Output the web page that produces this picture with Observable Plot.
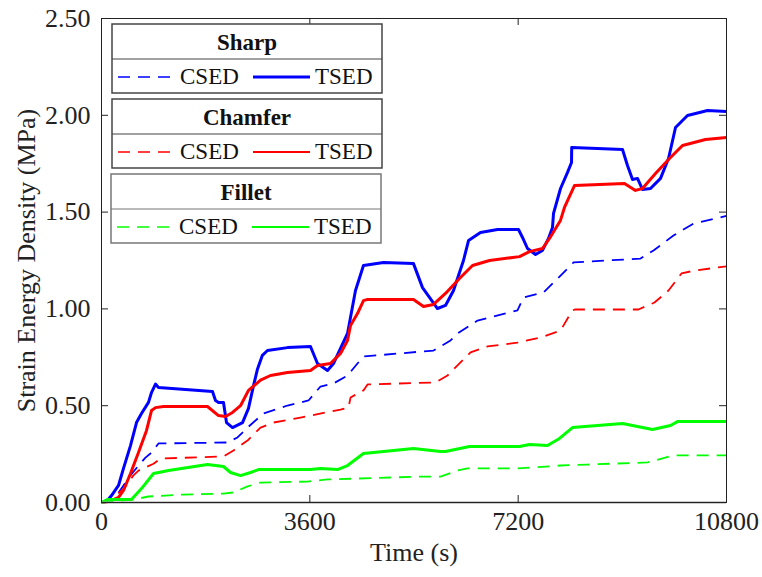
<!DOCTYPE html>
<html><head><meta charset="utf-8">
<script src="https://cdn.jsdelivr.net/npm/d3@7"></script>
<script src="https://cdn.jsdelivr.net/npm/@observablehq/plot@0.6"></script>
<style>
body{margin:0;background:#fff}
#chart{width:762px;height:577px}
</style>
</head><body><div id="chart"></div>
<script>
// ---- Data ----
const xTicks = [0, 3600, 7200, 10800];
const yTicks = [0, 0.5, 1.0, 1.5, 2.0, 2.5];
const geometries = ["Sharp", "Chamfer", "Fillet"];
const measures = ["CSED", "TSED"];
const colors = {Sharp: "#0000ff", Chamfer: "#ff0000", Fillet: "#00ff00"};

const sharpTSED_t = [0,86,173,294,380,501,605,691,812,864,933,985,1918,1970,2022,2108,2160,2264,2437,2540,2627,2696,2780,2868,3214,3611,3732,3905,4009,4251,4389,4527,4873,5391,5547,5806,5944,6083,6255,6342,6549,6843,7206,7275,7361,7500,7620,7724,7793,7811,7932,8053,8122,8125,8571,9003,9089,9176,9262,9348,9487,9660,9798,9919,10126,10472,10800];
const sharpTSED_v = [0,0.005,0.036,0.088,0.176,0.294,0.413,0.46,0.517,0.568,0.612,0.594,0.573,0.527,0.517,0.517,0.413,0.387,0.413,0.486,0.604,0.69,0.76,0.785,0.80,0.806,0.718,0.682,0.718,0.873,1.095,1.224,1.24,1.234,1.11,1.002,1.018,1.095,1.25,1.353,1.395,1.41,1.41,1.369,1.312,1.281,1.302,1.364,1.42,1.493,1.622,1.705,1.756,1.834,1.829,1.823,1.741,1.668,1.674,1.617,1.622,1.674,1.777,1.937,1.999,2.025,2.02];

const sharpCSED_t = [0,121,294,380,500,639,760,864,985,2176,2350,2523,2799,3214,3577,3784,4009,4251,4423,4527,5737,6031,6152,6498,7188,7292,7638,7811,8105,8157,9314,9539,9884,10230,10800];
const sharpCSED_v = [0,0.005,0.05,0.088,0.14,0.19,0.232,0.258,0.305,0.31,0.336,0.387,0.46,0.501,0.527,0.599,0.615,0.656,0.718,0.754,0.785,0.837,0.873,0.94,0.992,1.059,1.085,1.136,1.224,1.24,1.26,1.302,1.379,1.441,1.48];

const chamferTSED_t = [0,121,294,380,501,639,778,864,933,1071,1831,2022,2143,2264,2402,2540,2748,2920,3214,3611,3732,3957,4130,4251,4303,4423,4527,4597,5391,5564,5737,5944,6186,6411,6705,7223,7396,7620,7741,7931,8000,8173,9037,9227,9348,9573,9815,10040,10437,10800];
const chamferTSED_v = [0,0.005,0.026,0.062,0.15,0.258,0.372,0.475,0.49,0.496,0.496,0.449,0.444,0.465,0.50,0.579,0.632,0.656,0.671,0.682,0.708,0.718,0.77,0.837,0.914,0.976,1.043,1.049,1.049,1.012,1.023,1.08,1.157,1.224,1.25,1.27,1.296,1.312,1.364,1.457,1.524,1.637,1.648,1.612,1.622,1.699,1.777,1.844,1.875,1.885];

const chamferCSED_t = [0,121,380,553,639,899,1020,2108,2281,2523,2748,2972,3439,4130,4268,4303,4527,4597,5771,5979,6152,6377,6671,7188,7585,7931,8136,8188,9279,9556,9798,10022,10247,10800];
const chamferCSED_v = [0,0.005,0.07,0.14,0.165,0.2,0.227,0.238,0.269,0.32,0.387,0.413,0.439,0.48,0.49,0.542,0.579,0.61,0.62,0.656,0.708,0.775,0.806,0.826,0.852,0.888,0.992,0.997,0.997,1.033,1.095,1.183,1.198,1.22];

const filletTSED_t = [0,100,518,691,899,1158,1831,2108,2230,2402,2575,2713,3611,3784,4078,4251,4527,5391,5858,5944,6359,7223,7396,7707,7914,8139,9003,9521,9832,9953,10800];
const filletTSED_v = [0,0.015,0.015,0.072,0.15,0.165,0.196,0.186,0.155,0.139,0.155,0.17,0.17,0.176,0.17,0.191,0.253,0.279,0.263,0.263,0.289,0.289,0.3,0.294,0.331,0.387,0.408,0.377,0.398,0.418,0.418];

const filletCSED_t = [0,553,812,1418,2108,2281,2523,2748,3560,3905,5512,5858,6152,6325,7188,7465,7932,8398,9435,9884,10800];
const filletCSED_v = [0,0.015,0.031,0.041,0.046,0.052,0.083,0.103,0.108,0.119,0.134,0.134,0.165,0.176,0.176,0.181,0.191,0.196,0.207,0.243,0.243];

// ---- Build rows ----
const rows = (geo, meas, t, v) => t.map((x, i) => ({t: x, v: v[i], geo, meas}));
const series = [
  rows("Sharp", "CSED", sharpCSED_t, sharpCSED_v),
  rows("Sharp", "TSED", sharpTSED_t, sharpTSED_v),
  rows("Chamfer", "CSED", chamferCSED_t, chamferCSED_v),
  rows("Chamfer", "TSED", chamferTSED_t, chamferTSED_v),
  rows("Fillet", "CSED", filletCSED_t, filletCSED_v),
  rows("Fillet", "TSED", filletTSED_t, filletTSED_v)
];

const W = 762, H = 577, mL = 101, mR = 36, mT = 18, mB = 75;
const font = "'Liberation Serif', 'Times New Roman', serif";
const TICK = 7;

const lineMarks = series.map(s => Plot.line(s, {
  x: "t", y: "v",
  stroke: colors[s[0].geo],
  strokeWidth: s[0].meas === "TSED" ? 3 : 1.8,
  strokeDasharray: s[0].meas === "CSED" ? "12,8" : null,
  strokeLinejoin: "round", strokeLinecap: "butt"
}));

const plot = Plot.plot({
  width: W, height: H,
  marginLeft: mL, marginRight: mR, marginTop: mT, marginBottom: mB,
  style: {fontFamily: font, fontSize: "26px", color: "#222", background: "#fff"},
  x: {domain: [0, 10800]},
  y: {domain: [0, 2.5]},
  marks: [
    ...lineMarks,
    Plot.ruleY([0], {stroke: "#999", strokeWidth: 2}),
    Plot.frame({stroke: "#222", strokeWidth: 1}),
    Plot.tickX(xTicks, {x: d => d, insetTop: H - mT - mB - TICK, stroke: "#222"}),
    Plot.tickX(xTicks, {x: d => d, insetBottom: H - mT - mB - TICK, stroke: "#222"}),
    Plot.tickY(yTicks, {y: d => d, insetRight: W - mL - mR - TICK, stroke: "#222"}),
    Plot.tickY(yTicks, {y: d => d, insetLeft: W - mL - mR - TICK, stroke: "#222"}),
    Plot.axisX({ticks: xTicks, tickSize: 0, tickPadding: 9, tickFormat: d => String(d), label: null, fill: "#222"}),
    Plot.axisY({ticks: yTicks, tickSize: 0, tickPadding: 11, tickFormat: d3.format(".2f"), label: null, fill: "#222"}),
    Plot.text(["Time (s)"], {text: d => d, frameAnchor: "bottom", textAnchor: "middle", dy: 58, fill: "#222"}),
    Plot.text(["Strain Energy Density (MPa)"], {text: d => d, frameAnchor: "left", textAnchor: "middle", rotate: -90, dx: -75, fill: "#222"})
  ]
});

// ---- Legend (three boxed groups) ----
const svg = d3.select(plot);
const lg = svg.append("g").attr("font-family", font).attr("font-size", 23).attr("fill", "#111");
const boxTop = [24, 99, 174];
geometries.forEach((g, i) => {
  const y0 = boxTop[i];
  const x0 = i === 2 ? 111 : 112, w = 270;
  const bx = lg.append("g");
  bx.append("rect").attr("x", x0).attr("y", y0).attr("width", w).attr("height", 69)
    .attr("fill", "#fff").attr("stroke", i === 2 ? "#777" : "#444").attr("stroke-width", 1.5);
  bx.append("line").attr("x1", x0).attr("x2", x0 + w).attr("y1", y0 + 35).attr("y2", y0 + 35)
    .attr("stroke", i === 2 ? "#777" : "#444").attr("stroke-width", 1.2);
  bx.append("text").attr("x", x0 + 135).attr("y", y0 + 26).attr("text-anchor", "middle")
    .attr("font-weight", "bold").text(g);
  measures.forEach((m, j) => {
    const lx = x0 + 6 + j * 135;
    bx.append("line").attr("x1", lx).attr("x2", lx + 57).attr("y1", y0 + 53).attr("y2", y0 + 53)
      .attr("stroke", colors[g]).attr("stroke-width", m === "TSED" ? (i === 0 ? 3 : 2) : 1.6)
      .attr("stroke-dasharray", m === "CSED" ? "12,8" : null);
    bx.append("text").attr("x", lx + 62).attr("y", y0 + 60).attr("text-anchor", "start").text(m);
  });
});

document.getElementById("chart").appendChild(plot);
</script>
</body></html>
